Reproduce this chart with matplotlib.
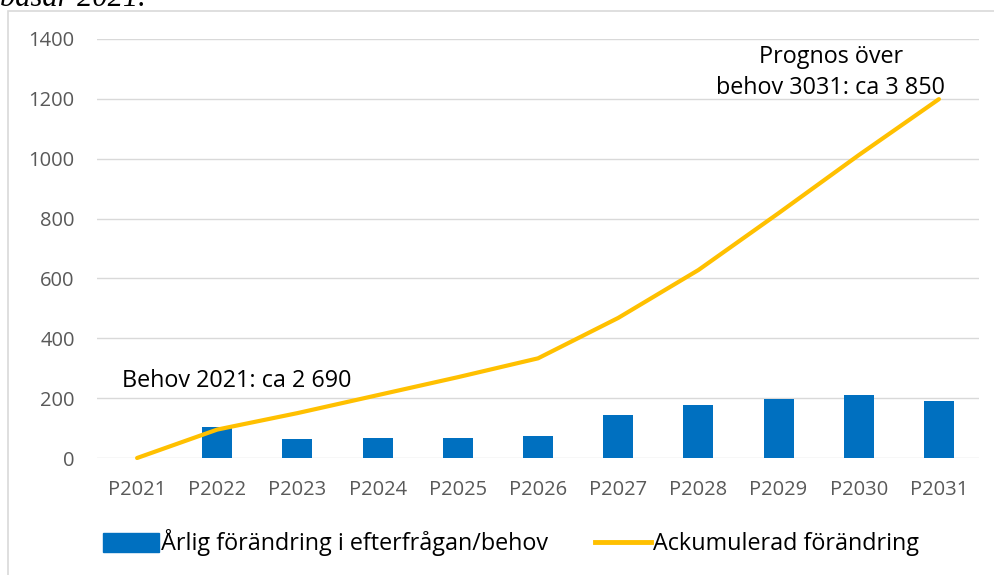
import matplotlib.pyplot as plt
from matplotlib.patches import Rectangle, Patch
from matplotlib.lines import Line2D

categories = ['P2021', 'P2022', 'P2023', 'P2024', 'P2025', 'P2026',
              'P2027', 'P2028', 'P2029', 'P2030', 'P2031']
annual_change = [0, 105, 62, 66, 66, 72, 143, 177, 197, 210, 190]
cumulative = [0, 95, 150, 210, 270, 333, 468, 628, 818, 1012, 1199]
y_ticks = [0, 200, 400, 600, 800, 1000, 1200, 1400]

bar_color = '#0070C0'
line_color = '#FFC000'
grid_color = '#D9D9D9'
label_color = '#595959'

plt.rcParams['font.family'] = ['Open Sans', 'DejaVu Sans']

fig = plt.figure(figsize=(9.94, 5.75), dpi=100)
ax = fig.add_axes([97/994, 1 - 458/575, 882/994, 419/575])

x = list(range(len(categories)))
ax.bar(x, annual_change, width=0.375, color=bar_color, zorder=2,
       label='Årlig förändring i efterfrågan/behov')
ax.plot(x, cumulative, color=line_color, linewidth=3, solid_capstyle='round',
        zorder=3, clip_on=False, label='Ackumulerad förändring')

ax.set_xlim(-0.5, len(categories) - 0.5)
ax.set_ylim(0, 1400)
ax.set_yticks(y_ticks)
ax.set_xticks(x)
ax.set_xticklabels(categories)
ax.grid(axis='y', color=grid_color, linewidth=1, zorder=0)
ax.set_axisbelow(True)
for s in ax.spines.values():
    s.set_visible(False)
ax.tick_params(axis='both', length=0, labelsize=14.5, colors=label_color)
ax.tick_params(axis='x', pad=16)
ax.tick_params(axis='y', pad=16)

ax.text(-0.19, 257, 'Behov 2021: ca 2 690', fontsize=16.8, color='black', va='center')
ax.text(8.65, 1288, 'Prognos över\nbehov 3031: ca 3 850', fontsize=16.8,
        color='black', ha='center', va='center', linespacing=1.42)

handles = [Patch(facecolor=bar_color, edgecolor=bar_color),
           Line2D([0], [0], color=line_color, linewidth=3.5)]
fig.legend(handles, ['Årlig förändring i efterfrågan/behov', 'Ackumulerad förändring'],
           loc='center', bbox_to_anchor=(0.514, 1 - 543/575), ncol=2, frameon=False,
           fontsize=16.8, handlelength=2.4, handleheight=0.85, handletextpad=0.1,
           columnspacing=2.0)

# chart frame and cut off caption above it
fig.patches.append(Rectangle((8/994, -0.1), 1.2, 1.1 - 11/575, transform=fig.transFigure,
                             fill=False, edgecolor=grid_color, linewidth=1.2))
fig.text(0.0, 1 - 6/575, 'basar 2021.', family='Liberation Serif', style='italic',
         fontsize=22, va='baseline', ha='left')

fig.savefig('out.png', dpi=100)
